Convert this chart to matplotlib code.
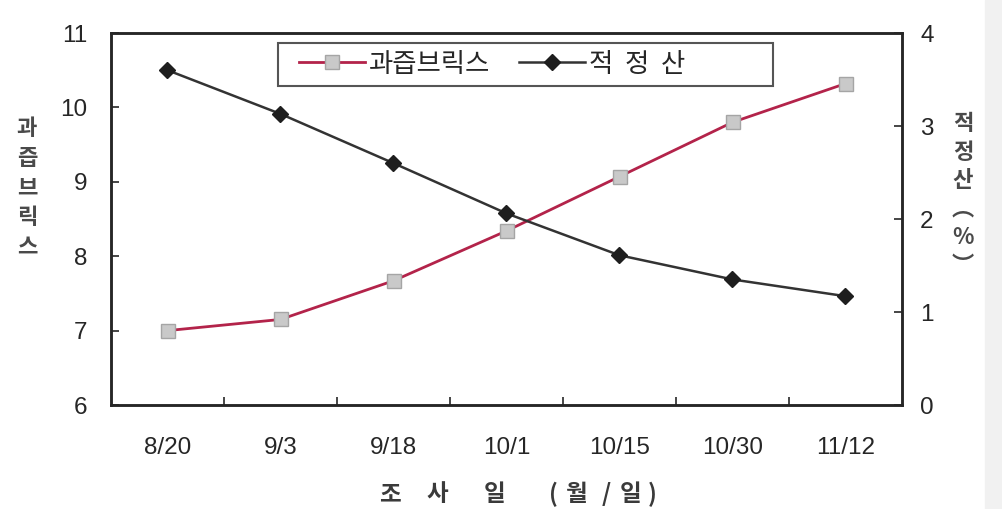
import matplotlib
matplotlib.use("Agg")
import matplotlib.pyplot as plt
from matplotlib.lines import Line2D
from matplotlib.patches import Rectangle

plt.rcParams['font.family'] = ['Liberation Sans', 'Noto Sans CJK KR', 'DejaVu Sans']

# survey dates (month/day)
dates = ['8/20', '9/3', '9/18', '10/1', '10/15', '10/30', '11/12']
# juice Brix (left axis)
brix = [7.0, 7.15, 7.67, 8.34, 9.07, 9.8, 10.32]
# titratable acidity, % (right axis)
acidity = [3.6, 3.13, 2.6, 2.06, 1.61, 1.35, 1.17]

brix_ticks = [6, 7, 8, 9, 10, 11]
acid_ticks = [0, 1, 2, 3, 4]

ink = '#262626'
red = '#b3234a'
kfont = ['Noto Sans CJK KR', 'DejaVu Sans']

W, H = 1002, 509
fig = plt.figure(figsize=(W / 100, H / 100), dpi=100, facecolor='white')


def fx(px):
    return px / W


def fy(py):
    return 1 - py / H


# light border of the page
fig.patches.append(Rectangle((fx(985), 0), fx(17), 1, transform=fig.transFigure,
                             color='#f1f1f1', zorder=0))

ax = fig.add_axes([fx(111), fy(405), fx(791), 372 / H])
ax2 = ax.twinx()

x = list(range(len(dates)))

brix_style = dict(color=red, lw=2.0, marker='s', ms=10,
                  mfc='#c9c9c9', mec='#a5a5a5', mew=1.0)
acid_style = dict(color='#333333', lw=1.8, marker='D', ms=8,
                  mfc='#1e1e1e', mec='#1e1e1e')

ax.plot(x, brix, zorder=3, **brix_style)
ax2.plot(x, acidity, zorder=3, **acid_style)

ax.set_xlim(-0.5, len(dates) - 0.5)
ax.set_ylim(brix_ticks[0], brix_ticks[-1])
ax2.set_ylim(acid_ticks[0], acid_ticks[-1])

# category boundaries carry the ticks, labels sit at the centres
ax.set_xticks([i + 0.5 for i in x[:-1]])
ax.set_xticklabels([])
ax.set_xticks(x, minor=True)
ax.set_xticklabels(dates, minor=True, fontsize=17.5, color=ink)
ax.tick_params(axis='x', which='major', direction='in', length=6, width=1.2, color=ink)
ax.tick_params(axis='x', which='minor', length=0, pad=23)

ax.set_yticks(brix_ticks)
ax.set_yticklabels([str(t) for t in brix_ticks], fontsize=17.5, color=ink)
ax.tick_params(axis='y', direction='in', length=6, width=1.2, color=ink, pad=17)

ax2.set_yticks(acid_ticks)
ax2.set_yticklabels([str(t) for t in acid_ticks], fontsize=17.5, color=ink)
ax2.tick_params(axis='y', direction='in', length=6, width=1.2, color=ink, pad=13)

for a in (ax, ax2):
    for s in a.spines.values():
        s.set_linewidth(1.8)
        s.set_color(ink)

title_color = '#4a4a4a'
# vertical stacked axis titles
fig.text(fx(27), fy(188), '\n'.join('과즙브릭스'), ha='center', va='center',
         fontsize=16, fontweight='bold', color=title_color, family=kfont,
         linespacing=1.37)
fig.text(fx(963), fy(195), '\n'.join(['적', '정', '산', '︵', '%', '︶']),
         ha='center', va='center', fontsize=16, fontweight='bold', color=title_color,
         family=kfont, linespacing=1.3)

# x-axis title, widely spaced characters
xlabel_parts = [('조', 390), ('사', 437), ('일', 495), ('(', 553), ('월', 576),
                ('/', 606), ('일', 631), (')', 652)]
for ch, px in xlabel_parts:
    fig.text(fx(px), fy(494), ch, ha='center', va='center', fontsize=17,
             fontweight='bold', color='#3a3a3a', family=kfont)

# legend with its own frame
fig.patches.append(Rectangle((fx(278), fy(86)), fx(495), 43 / H, transform=fig.transFigure,
                             fill=False, edgecolor='#555555', lw=1.5, zorder=5))
handles = [Line2D([], [], **brix_style), Line2D([], [], **acid_style)]
leg = fig.legend(handles, ['과즙브릭스', '적  정  산'], loc='center left',
                 bbox_to_anchor=(fx(299), fy(64)), ncol=2, frameon=False,
                 handlelength=2.5, handletextpad=0.15, columnspacing=1.1,
                 borderpad=0, borderaxespad=0,
                 prop={'family': kfont, 'size': 19})
for t in leg.get_texts():
    t.set_color(ink)

fig.savefig('out.png', dpi=100, facecolor='white')
